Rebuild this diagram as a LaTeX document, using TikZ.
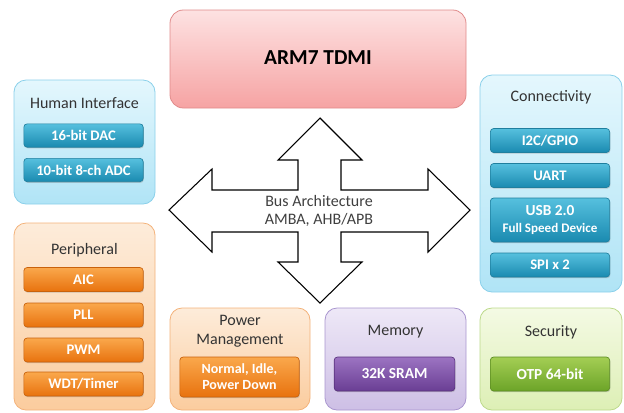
\documentclass[tikz,border=0pt]{standalone}
\usepackage{fontspec}
\setmainfont{Carlito}
\usepackage{xcolor}
\usepackage{tikz}
\usetikzlibrary{shadows}
\usetikzlibrary{positioning}

\definecolor{titlegray}{RGB}{51,51,51}
\definecolor{busgray}{RGB}{64,64,64}

\begin{document}
\begin{tikzpicture}[x=0.75pt,y=0.75pt,yscale=-1,xscale=1,
  panel/.style={rounded corners=9pt, line width=0.6pt},
  bluepanel/.style={panel, draw={rgb,255:red,138;green,208;blue,234}, top color={rgb,255:red,228;green,247;blue,253}, bottom color={rgb,255:red,176;green,228;blue,246}},
  orangepanel/.style={panel, draw={rgb,255:red,243;green,178;blue,122}, top color={rgb,255:red,253;green,236;blue,218}, bottom color={rgb,255:red,251;green,204;blue,158}},
  pinkpanel/.style={panel, draw={rgb,255:red,224;green,138;blue,138}, top color={rgb,255:red,253;green,226;blue,226}, bottom color={rgb,255:red,246;green,163;blue,163}},
  purplepanel/.style={panel, draw={rgb,255:red,169;green,150;blue,207}, top color={rgb,255:red,238;green,232;blue,247}, bottom color={rgb,255:red,205;green,191;blue,229}},
  greenpanel/.style={panel, draw={rgb,255:red,188;green,217;blue,138}, top color={rgb,255:red,244;green,250;blue,228}, bottom color={rgb,255:red,221;green,239;blue,181}},
  title/.style={text=titlegray, font=\fontsize{12}{14.5}\selectfont, align=center},
  chip/.style={rounded corners=2.5pt, line width=0.5pt, minimum width=89.5pt, minimum height=18pt, inner sep=1pt, text=white, align=center, font=\bfseries\fontsize{11}{13}\selectfont, drop shadow={shadow xshift=0.5pt, shadow yshift=-0.9pt, opacity=0.35}},
  tealchip/.style={chip, draw={rgb,255:red,31;green,127;blue,158}, top color={rgb,255:red,86;green,192;blue,222}, bottom color={rgb,255:red,26;green,138;blue,176}},
  orangechip/.style={chip, draw={rgb,255:red,201;green,98;blue,12}, top color={rgb,255:red,250;green,168;blue,76}, bottom color={rgb,255:red,232;green,114;blue,14}},
  purplechip/.style={chip, draw={rgb,255:red,88;green,50;blue,124}, top color={rgb,255:red,156;green,116;blue,194}, bottom color={rgb,255:red,106;green,62;blue,148}},
  greenchip/.style={chip, draw={rgb,255:red,92;green,140;blue,34}, top color={rgb,255:red,164;green,206;blue,84}, bottom color={rgb,255:red,108;green,164;blue,40}}
]
\useasboundingbox (0,0) rectangle (624,412);

%Shape: Rounded Rect [id:cpu]
\draw [pinkpanel, rounded corners=10pt] (170,10) rectangle (466,108);
% Text Node
\draw (318,58) node (cpu) [text=black, font=\bfseries\fontsize{16}{18}\selectfont] {ARM7 TDMI};

%Shape: Polygon [id:bus]
\draw [line width=0.8pt, fill=white, line join=miter] (169,210) -- (212,169) -- (212,190) -- (298,190) -- (298,160) -- (278,160) -- (320,118) -- (362,160) -- (341,160) -- (341,190) -- (428,190) -- (428,169) -- (470,210) -- (428,252) -- (428,232) -- (341,232) -- (341,262) -- (362,262) -- (320,303) -- (278,262) -- (298,262) -- (298,232) -- (212,232) -- (212,252) -- cycle ;
% Text Node
\draw (319,211) node (bus) [text=busgray, align=center, font=\fontsize{12}{13.5}\selectfont] {Bus Architecture\\AMBA, AHB/APB};

%Shape: Rounded Rect [id:human]
\draw [bluepanel] (14,80) rectangle (155,204);
% Text Node
\draw (84.5,103) node (human) [title] {Human Interface};
\draw (83.5,135.5) node (dac) [tealchip, minimum height=17.5pt] {16-bit DAC};
\draw (83.5,170) node (adc) [tealchip, minimum height=17.5pt] {10-bit 8-ch ADC};

%Shape: Rounded Rect [id:conn]
\draw [bluepanel] (480,75) rectangle (622,292);
% Text Node
\draw (551,97) node (conn) [title] {Connectivity};
\draw (550,140.5) node (i2c) [tealchip] {I2C/GPIO};
\draw (550,175.5) node (uart) [tealchip] {UART};
\draw (550,220) node (usb) [tealchip, minimum height=33pt] {\fontsize{11.5}{15}\selectfont USB 2.0\\\fontsize{9.8}{11}\selectfont Full Speed Device};
\draw (550,265) node (spi) [tealchip] {SPI x 2};

%Shape: Rounded Rect [id:periph]
\draw [orangepanel] (14,223) rectangle (155,410);
% Text Node
\draw (84.5,250) node (periph) [title] {Peripheral};
\draw (83.5,279.5) node (aic) [orangechip] {AIC};
\draw (83.5,315) node (pll) [orangechip] {PLL};
\draw (83.5,350) node (pwm) [orangechip] {PWM};
\draw (83.5,384) node (wdt) [orangechip] {WDT/Timer};

%Shape: Rounded Rect [id:power]
\draw [orangepanel] (170,308) rectangle (310,410);
% Text Node
\draw (240,331.5) node (power) [title] {Power\\Management};
\draw (239.5,377) node (modes) [orangechip, minimum height=30pt, font=\bfseries\fontsize{10.5}{12}\selectfont] {Normal, Idle,\\Power Down};

%Shape: Rounded Rect [id:mem]
\draw [purplepanel] (325,308) rectangle (466,410);
% Text Node
\draw (395.5,332) node (mem) [title] {Memory};
\draw (394.5,374) node (sram) [purplechip, minimum width=90.5pt, minimum height=25.5pt, font=\bfseries\fontsize{11.5}{13}\selectfont] {32K SRAM};

%Shape: Rounded Rect [id:sec]
\draw [greenpanel] (480,308) rectangle (622,410);
% Text Node
\draw (551,332) node (sec) [title] {Security};
\draw (550,374) node (otp) [greenchip, minimum height=25.5pt, font=\bfseries\fontsize{11.5}{13}\selectfont] {OTP 64-bit};

\end{tikzpicture}
\end{document}
